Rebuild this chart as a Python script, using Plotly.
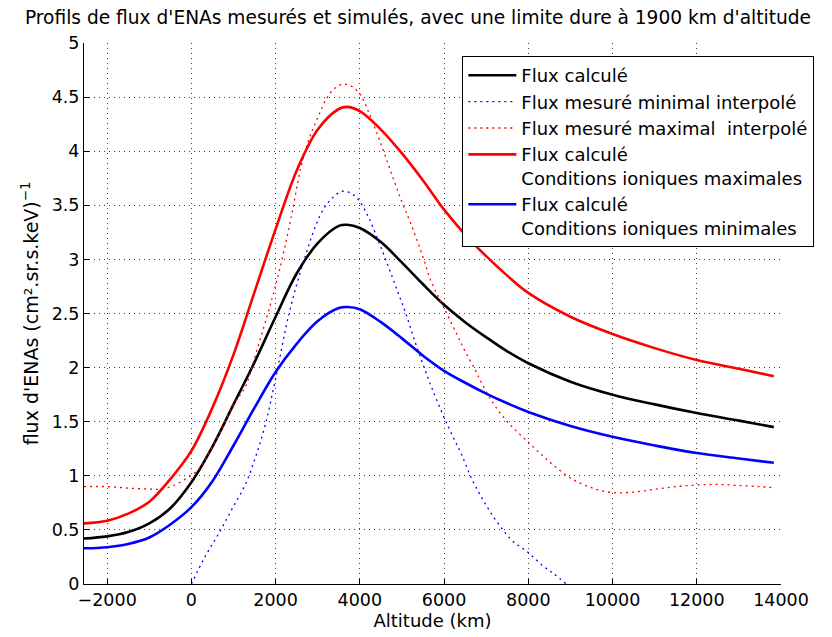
import plotly.graph_objects as go

# ---------------- data ----------------
alt_calc = [-2550, -2000, -1500, -1000, -500, 0, 500, 1000, 1500, 2000, 2500, 3000,
            3500, 3700, 4000, 4500, 5000, 5500, 6000, 6500, 7000, 7500, 8000, 9000,
            10000, 11000, 12000, 13000, 13830]
flux_calc = [0.42, 0.44, 0.48, 0.56, 0.70, 0.94, 1.27, 1.66, 2.05, 2.47, 2.87, 3.15,
             3.31, 3.32, 3.29, 3.16, 2.97, 2.77, 2.58, 2.42, 2.28, 2.15, 2.04, 1.87,
             1.75, 1.66, 1.58, 1.51, 1.45]
flux_calc_max = [0.56, 0.585, 0.65, 0.76, 0.97, 1.23, 1.63, 2.12, 2.70, 3.28, 3.82, 4.20,
                 4.39, 4.41, 4.37, 4.20, 3.98, 3.73, 3.46, 3.23, 3.03, 2.85, 2.69, 2.47,
                 2.31, 2.18, 2.07, 1.99, 1.92]
flux_calc_min = [0.33, 0.34, 0.37, 0.43, 0.55, 0.71, 0.95, 1.28, 1.63, 1.96, 2.22, 2.43,
                 2.55, 2.56, 2.54, 2.42, 2.27, 2.11, 1.97, 1.86, 1.76, 1.67, 1.59, 1.46,
                 1.36, 1.28, 1.21, 1.16, 1.12]

alt_mes_min = [0, 320, 640, 960, 1280, 1520, 1760, 2000, 2320, 2680, 3050, 3300, 3600,
               3900, 4180, 4420, 4660, 4900, 5100, 5300, 5500, 5700, 6000, 6200, 6400,
               6660, 6980, 7300, 7620, 8000, 8340, 8620, 8900]
flux_mes_min = [0.0, 0.25, 0.46, 0.69, 0.92, 1.17, 1.48, 1.90, 2.50, 3.00, 3.40, 3.55, 3.63,
                3.58, 3.41, 3.19, 2.95, 2.70, 2.49, 2.25, 2.03, 1.82, 1.54, 1.37, 1.21,
                0.97, 0.74, 0.55, 0.40, 0.29, 0.17, 0.09, 0.0]

alt_mes_max = [-2550, -2000, -1500, -1000, -700, -400, -100, 150, 400, 700, 1000, 1280,
               1500, 1800, 2000, 2200, 2400, 2600, 2800, 3000, 3200, 3400, 3600, 3800,
               4000, 4200, 4400, 4600, 4800, 5000, 5200, 5500, 5700, 6000, 6300, 6500,
               6750, 6900, 7150, 7500, 8000, 8500, 9000, 9500, 10000, 10500, 11000,
               11500, 12000, 12500, 13000, 13500, 13830]
flux_mes_max = [0.90, 0.90, 0.886, 0.877, 0.877, 0.915, 0.98, 1.05, 1.20, 1.42, 1.66, 1.82,
                2.09, 2.48, 2.76, 3.08, 3.45, 3.85, 4.12, 4.31, 4.48, 4.58, 4.62, 4.60,
                4.53, 4.37, 4.17, 3.96, 3.74, 3.53, 3.34, 3.02, 2.79, 2.55, 2.31, 2.15,
                1.97, 1.85, 1.68, 1.50, 1.31, 1.13, 0.98, 0.89, 0.845, 0.85, 0.875,
                0.90, 0.915, 0.92, 0.91, 0.90, 0.89]

x_tickvals = [-2000, 0, 2000, 4000, 6000, 8000, 10000, 12000, 14000]
x_ticktext = ["\u22122000", "0", "2000", "4000", "6000", "8000", "10000", "12000", "14000"]
y_tickvals = [0, 0.5, 1, 1.5, 2, 2.5, 3, 3.5, 4, 4.5, 5]
y_ticktext = ["0", "0.5", "1", "1.5", "2", "2.5", "3", "3.5", "4", "4.5", "5"]

names = ["Flux calculé",
         "Flux mesuré minimal interpolé",
         "Flux mesuré maximal  interpolé",
         "Flux calculé<br>Conditions ioniques maximales",
         "Flux calculé<br>Conditions ioniques minimales"]

FONT = "DejaVu Sans"
W, H = 824, 629   # page body has an 8 px margin

fig = go.Figure()
fig.add_trace(go.Scatter(x=alt_calc, y=flux_calc, mode="lines", name=names[0],
                         line=dict(color="black", width=2.6, shape="spline")))
fig.add_trace(go.Scatter(x=alt_mes_min, y=flux_mes_min, mode="lines", name=names[1],
                         line=dict(color="#0000ff", width=1.3, dash="2px,4px", shape="spline")))
fig.add_trace(go.Scatter(x=alt_mes_max, y=flux_mes_max, mode="lines", name=names[2],
                         line=dict(color="#ff0000", width=1.3, dash="2px,4px", shape="spline")))
fig.add_trace(go.Scatter(x=alt_calc, y=flux_calc_max, mode="lines", name=names[3],
                         line=dict(color="#ff0000", width=2.6, shape="spline")))
fig.add_trace(go.Scatter(x=alt_calc, y=flux_calc_min, mode="lines", name=names[4],
                         line=dict(color="#0000ff", width=2.6, shape="spline")))

axis_common = dict(
    showline=True, linecolor="black", linewidth=1, mirror=False, automargin=False,
    ticks="inside", ticklen=5, tickcolor="black", tickwidth=1,
    showgrid=True, gridcolor="rgba(0,0,0,0.75)", griddash="1px,4px", gridwidth=1,
    zeroline=False, tickfont=dict(family=FONT, size=17.5, color="black"),
)

fig.update_layout(
    width=W, height=H,
    margin=dict(l=76, r=51, t=35, b=53, autoexpand=False),
    paper_bgcolor="white", plot_bgcolor="white",
    font=dict(family=FONT, color="black"),
    title=dict(text="Profils de flux d'ENAs mesurés et simulés, avec une limite dure à 1900 km d'altitude",
               x=410 / W, xref="container", xanchor="center",
               y=1 - 9 / H, yref="container", yanchor="middle",
               font=dict(family=FONT, size=18.6, color="black")),
    xaxis=dict(range=[-2550, 14000], tickmode="array", tickvals=x_tickvals, ticktext=x_ticktext,
               title=dict(text="Altitude (km)", font=dict(family=FONT, size=18), standoff=4),
               **axis_common),
    yaxis=dict(range=[0, 5], tickmode="array", tickvals=y_tickvals, ticktext=y_ticktext,
               title=dict(text="flux d'ENAs (cm².sr.s.keV)<sup>\u22121</sup>",
                          font=dict(family=FONT, size=19), standoff=8),
               **axis_common),
    legend=dict(x=(458 - 84) / 689, y=(584 - 56) / 541, xanchor="left", yanchor="top",
                bgcolor="white", bordercolor="black", borderwidth=1,
                font=dict(family=FONT, size=18, color="black"),
                valign="top", tracegroupgap=0, itemwidth=48),
    showlegend=True,
)

fig.write_html("out.html")
